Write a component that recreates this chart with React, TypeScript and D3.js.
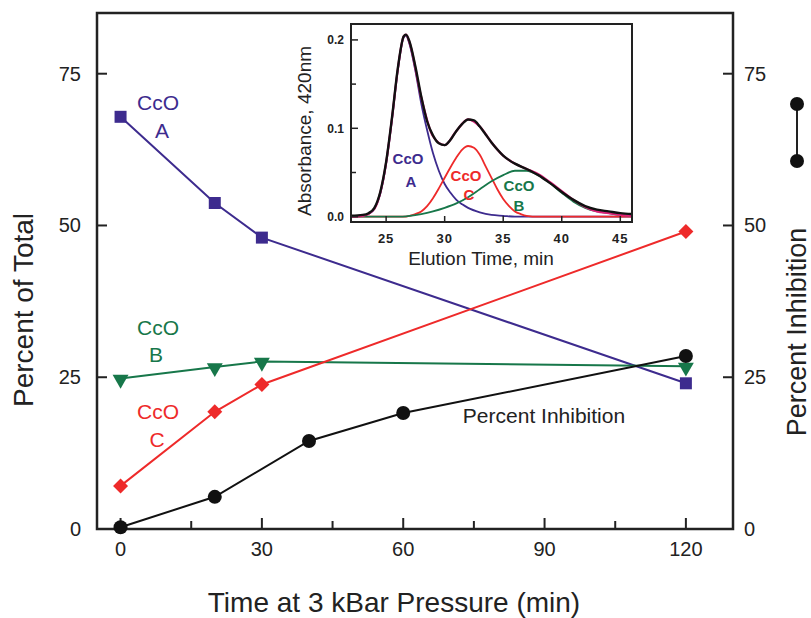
import * as d3 from "d3";

const WIDTH = 811;
const HEIGHT = 618;
const FONT = "'Liberation Sans', Arial, Helvetica, sans-serif";
const INK = "#222";

const PURPLE = "#3d2b8e";
const GREEN = "#17774a";
const RED = "#ee2a2a";
const BLACK = "#111";
const MAGENTA = "#e0207a";

// main chart: time at 3 kBar pressure (min)
const timeA = [0, 20, 30, 120];
const cco_A = [67.9, 53.7, 48.0, 24.0];
const timeB = [0, 20, 30, 120];
const cco_B = [24.8, 26.7, 27.6, 26.8];
const timeC = [0, 20, 30, 120];
const cco_C = [7.1, 19.3, 23.8, 49.0];
const timeInhib = [0, 20, 40, 60, 120];
const inhibition = [0.3, 5.3, 14.5, 19.1, 28.5];

const xTicks = [0, 30, 60, 90, 120];
const xMinorTicks = [15, 45, 75, 105];
const yTicks = [0, 25, 50, 75];

// inset: elution profile, absorbance at 420nm
const totalTime = [22, 23, 23.5, 24, 24.5, 25, 25.5, 26, 26.5, 26.7, 27, 27.5, 28, 28.5, 29, 29.5, 30, 30.5, 31, 31.5, 32, 32.5, 33, 33.5, 34, 34.5, 35, 35.5, 36, 37, 38, 39, 40, 41, 42, 43, 44, 45, 46];
const totalAbs = [0.001, 0.002, 0.004, 0.010, 0.028, 0.062, 0.112, 0.168, 0.204, 0.206, 0.198, 0.170, 0.136, 0.108, 0.092, 0.083, 0.081, 0.087, 0.097, 0.105, 0.110, 0.109, 0.102, 0.093, 0.084, 0.076, 0.069, 0.064, 0.060, 0.054, 0.047, 0.038, 0.028, 0.019, 0.012, 0.008, 0.006, 0.004, 0.003];
const fitSumTime = [22, 23, 24, 24.5, 25, 25.5, 26, 26.5, 26.7, 27, 28, 29, 30, 31, 32, 33, 34, 35, 36, 37, 38, 39, 40, 41, 42, 43, 44, 45, 46];
const fitSumAbs = [0.0, 0.001, 0.009, 0.027, 0.061, 0.111, 0.167, 0.204, 0.206, 0.197, 0.135, 0.091, 0.081, 0.097, 0.110, 0.102, 0.084, 0.069, 0.060, 0.054, 0.048, 0.039, 0.029, 0.019, 0.011, 0.006, 0.004, 0.002, 0.001];
const peakATime = [22, 23, 23.5, 24, 24.5, 25, 25.5, 26, 26.5, 26.7, 27, 27.5, 28, 28.5, 29, 29.5, 30, 30.5, 31, 31.5, 32, 33, 34, 35, 36, 46];
const peakAAbs = [0.0, 0.001, 0.003, 0.009, 0.026, 0.060, 0.110, 0.166, 0.203, 0.205, 0.195, 0.165, 0.128, 0.098, 0.072, 0.052, 0.037, 0.027, 0.019, 0.014, 0.010, 0.005, 0.002, 0.001, 0.0, 0.0];
const peakBTime = [22, 26, 27, 28, 29, 30, 31, 32, 33, 34, 35, 36, 37, 38, 39, 40, 41, 42, 43, 44, 45, 46];
const peakBAbs = [0.0, 0.0, 0.001, 0.003, 0.006, 0.010, 0.015, 0.022, 0.031, 0.040, 0.047, 0.052, 0.052, 0.047, 0.038, 0.027, 0.017, 0.010, 0.006, 0.004, 0.002, 0.001];
const peakCTime = [22, 26.5, 27, 27.5, 28, 28.5, 29, 29.5, 30, 30.5, 31, 31.5, 32, 32.5, 33, 33.5, 34, 34.5, 35, 35.5, 36, 36.5, 37, 38, 46];
const peakCAbs = [0.0, 0.0, 0.001, 0.003, 0.006, 0.012, 0.021, 0.032, 0.044, 0.056, 0.067, 0.076, 0.080, 0.078, 0.070, 0.057, 0.044, 0.031, 0.020, 0.012, 0.006, 0.003, 0.001, 0.0, 0.0];

const insetXTicks = [25, 30, 35, 40, 45];
const insetYTicks = [0, 0.1, 0.2];
const insetYMinor = [0.05, 0.15];

const x = d3.scaleLinear().domain([-5, 130]).range([97, 733]);
const y = d3.scaleLinear().domain([0, 85]).range([529, 13]);

const ix = d3.scaleLinear().domain([22, 46]).range([351, 632]);
const iy = d3.scaleLinear().domain([-0.006, 0.218]).range([222, 24]);

function mainLine(xs: number[], ys: number[]) {
  return d3
    .line<number>()
    .x((_, i) => x(xs[i]))
    .y((v) => y(v))(ys) ?? "";
}

function insetLine(xs: number[], ys: number[]) {
  return d3
    .line<number>()
    .x((_, i) => ix(xs[i]))
    .y((v) => iy(v))
    .curve(d3.curveMonotoneX)(ys) ?? "";
}

const squarePath = d3.symbol(d3.symbolSquare, 144)() ?? "";
const diamondPath = d3.symbol(d3.symbolSquare, 112)() ?? "";
const trianglePath = d3.symbol(d3.symbolTriangle, 110)() ?? "";

export default function App() {
  return (
    <svg
      width={WIDTH}
      height={HEIGHT}
      style={{ position: "absolute", left: 0, top: 0, background: "#fff" }}
      fontFamily={FONT}
    >
      {/* main frame */}
      <rect x={97} y={13} width={636} height={516} fill="none" stroke={INK} strokeWidth={2.5} />

      {/* left y axis */}
      {yTicks.map((t) => (
        <g key={"yl" + t}>
          <line x1={97} x2={107} y1={y(t)} y2={y(t)} stroke={INK} strokeWidth={2} />
          <text x={81} y={y(t)} dy="0.35em" textAnchor="end" fontSize={20} fill={INK}>
            {t}
          </text>
        </g>
      ))}
      {/* right y axis */}
      {yTicks.map((t) => (
        <g key={"yr" + t}>
          <line x1={723} x2={733} y1={y(t)} y2={y(t)} stroke={INK} strokeWidth={2} />
          <text x={744} y={y(t)} dy="0.35em" textAnchor="start" fontSize={20} fill={INK}>
            {t}
          </text>
        </g>
      ))}
      {/* x axis */}
      {xTicks.map((t) => (
        <g key={"x" + t}>
          <line x1={x(t)} x2={x(t)} y1={529} y2={518} stroke={INK} strokeWidth={2} />
          <text x={x(t)} y={556} textAnchor="middle" fontSize={20} fill={INK}>
            {t}
          </text>
        </g>
      ))}
      {xMinorTicks.map((t) => (
        <line key={"xm" + t} x1={x(t)} x2={x(t)} y1={529} y2={521} stroke={INK} strokeWidth={2} />
      ))}

      <text x={394} y={612} textAnchor="middle" fontSize={28} fill={INK}>
        Time at 3 kBar Pressure (min)
      </text>
      <text transform={`translate(33, 310) rotate(-90)`} textAnchor="middle" fontSize={28} fill={INK}>
        Percent of Total
      </text>
      <text transform={`translate(806, 332) rotate(-90)`} textAnchor="middle" fontSize={27} fill={INK}>
        Percent Inhibition
      </text>

      {/* legend for right axis */}
      <line x1={797} x2={797} y1={104} y2={161} stroke={INK} strokeWidth={2} />
      <circle cx={797} cy={104} r={7} fill={BLACK} />
      <circle cx={797} cy={161} r={7} fill={BLACK} />

      {/* series */}
      <path d={mainLine(timeA, cco_A)} fill="none" stroke={PURPLE} strokeWidth={2} />
      <path d={mainLine(timeB, cco_B)} fill="none" stroke={GREEN} strokeWidth={2} />
      <path d={mainLine(timeC, cco_C)} fill="none" stroke={RED} strokeWidth={2} />
      <path d={mainLine(timeInhib, inhibition)} fill="none" stroke={BLACK} strokeWidth={2} />

      {timeB.map((t, i) => (
        <path
          key={"b" + i}
          d={trianglePath}
          transform={`translate(${x(t)}, ${y(cco_B[i]) + 1}) rotate(180)`}
          fill={GREEN}
        />
      ))}
      {timeC.map((t, i) => (
        <path
          key={"c" + i}
          d={diamondPath}
          transform={`translate(${x(t)}, ${y(cco_C[i])}) rotate(45)`}
          fill={RED}
        />
      ))}
      {timeA.map((t, i) => (
        <path key={"a" + i} d={squarePath} transform={`translate(${x(t)}, ${y(cco_A[i])})`} fill={PURPLE} />
      ))}
      {timeInhib.map((t, i) => (
        <circle key={"p" + i} cx={x(t)} cy={y(inhibition[i])} r={7} fill={BLACK} />
      ))}

      {/* series labels */}
      <g fontSize={21} textAnchor="middle">
        <text x={158} y={103} dy="0.35em" fill={PURPLE}>CcO</text>
        <text x={162} y={131} dy="0.35em" fill={PURPLE}>A</text>
        <text x={158} y={328} dy="0.35em" fill={GREEN}>CcO</text>
        <text x={156} y={355} dy="0.35em" fill={GREEN}>B</text>
        <text x={158} y={412} dy="0.35em" fill={RED}>CcO</text>
        <text x={157} y={440} dy="0.35em" fill={RED}>C</text>
      </g>
      <text x={544} y={416} dy="0.35em" fontSize={21} textAnchor="middle" fill={INK}>
        Percent Inhibition
      </text>

      {/* inset */}
      <rect x={351} y={24} width={281} height={198} fill="#fff" />
      <path d={insetLine(peakATime, peakAAbs)} fill="none" stroke={PURPLE} strokeWidth={1.8} />
      <path d={insetLine(peakCTime, peakCAbs)} fill="none" stroke={RED} strokeWidth={1.8} />
      <path d={insetLine(peakBTime, peakBAbs)} fill="none" stroke={GREEN} strokeWidth={1.8} />
      <path d={insetLine(fitSumTime, fitSumAbs)} fill="none" stroke={MAGENTA} strokeWidth={2.2} />
      <path d={insetLine(totalTime, totalAbs)} fill="none" stroke={BLACK} strokeWidth={2.4} />
      <rect x={351} y={24} width={281} height={198} fill="none" stroke={INK} strokeWidth={2} />

      {insetYTicks.map((t) => (
        <g key={"iy" + t}>
          <line x1={351} x2={358} y1={iy(t)} y2={iy(t)} stroke={INK} strokeWidth={1.5} />
          <text x={344} y={iy(t)} dy="0.35em" textAnchor="end" fontSize={12} fontWeight="bold" fill={INK}>
            {t.toFixed(1)}
          </text>
        </g>
      ))}
      {insetYMinor.map((t) => (
        <line key={"iym" + t} x1={351} x2={356} y1={iy(t)} y2={iy(t)} stroke={INK} strokeWidth={1.5} />
      ))}
      {insetXTicks.map((t) => (
        <g key={"ix" + t}>
          <line x1={ix(t)} x2={ix(t)} y1={222} y2={216} stroke={INK} strokeWidth={1.5} />
          <text
            x={ix(t)}
            y={243}
            textAnchor="middle"
            fontSize={13}
            fontWeight="bold"
            letterSpacing={1}
            fill={INK}
          >
            {t}
          </text>
        </g>
      ))}
      <text x={481} y={265} textAnchor="middle" fontSize={19} fill={INK}>
        Elution Time, min
      </text>
      <text transform={`translate(311, 131) rotate(-90)`} textAnchor="middle" fontSize={19} fill={INK}>
        Absorbance, 420nm
      </text>

      <g fontSize={15} fontWeight="bold" textAnchor="middle">
        <text x={408} y={159} dy="0.35em" fill={PURPLE}>CcO</text>
        <text x={411} y={182} dy="0.35em" fill={PURPLE}>A</text>
        <text x={466} y={176} dy="0.35em" fill={RED}>CcO</text>
        <text x={469} y={195} dy="0.35em" fill={RED}>C</text>
        <text x={519} y={186} dy="0.35em" fill={GREEN}>CcO</text>
        <text x={519} y={206} dy="0.35em" fill={GREEN}>B</text>
      </g>
    </svg>
  );
}
